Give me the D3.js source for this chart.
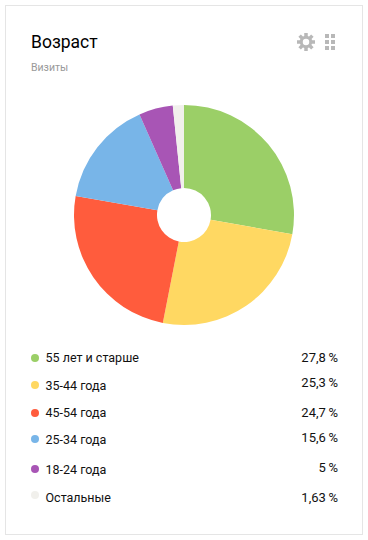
<!DOCTYPE html>
<html>
<head>
<meta charset="utf-8">
<script src="https://cdnjs.cloudflare.com/ajax/libs/d3/7.8.5/d3.min.js"></script>
<style>
html, body { margin: 0; padding: 0; background: #fff; }
text { font-family: Roboto, "Noto Sans", sans-serif; }
</style>
</head>
<body>
<div class="canvas"></div>
<script>
// Data
const categories = ['55 лет и старше', '35-44 года', '45-54 года', '25-34 года', '18-24 года', 'Остальные'];
const values = [27.8, 25.3, 24.7, 15.6, 5, 1.63];
// thin space before the percent sign
const valueLabels = ['27,8\u2009%', '25,3\u2009%', '24,7\u2009%', '15,6\u2009%', '5\u2009%', '1,63\u2009%'];
const colors = ['#9bcf67', '#ffd862', '#ff5c3d', '#78b5e8', '#a855b5', '#f1f0ec'];

const svg = d3.select('.canvas')
    .append('svg')
    .attr('width', 368)
    .attr('height', 540)
    .style('display', 'block');

// card border
svg.append('rect')
    .attr('x', 5.5)
    .attr('y', 5.5)
    .attr('width', 357)
    .attr('height', 529)
    .attr('fill', '#fff')
    .attr('stroke', '#e5e5e5');

// header
svg.append('text')
    .attr('x', 31)
    .attr('y', 48)
    .attr('font-size', 17.5)
    .attr('fill', '#000')
    .text('Возраст');

svg.append('text')
    .attr('x', 31)
    .attr('y', 71)
    .attr('font-size', 10.5)
    .attr('fill', '#999')
    .text('Визиты');

// gear icon
const gear = svg.append('g').attr('transform', 'translate(306, 42)');
d3.range(8).forEach(i => {
    gear.append('rect')
        .attr('x', -1.75)
        .attr('y', -9)
        .attr('width', 3.5)
        .attr('height', 5)
        .attr('fill', '#b8b8b8')
        .attr('transform', `rotate(${i * 45})`);
});
gear.append('circle')
    .attr('r', 4.75)
    .attr('fill', 'none')
    .attr('stroke', '#b8b8b8')
    .attr('stroke-width', 3);

// grid icon
const gridX = d3.scalePoint().domain([0, 1]).range([325, 331]);
const gridY = d3.scalePoint().domain([0, 1, 2]).range([34, 46]);
[0, 1, 2].forEach(r => [0, 1].forEach(c => {
    svg.append('rect')
        .attr('x', gridX(c))
        .attr('y', gridY(r))
        .attr('width', 4)
        .attr('height', 4)
        .attr('fill', '#b8b8b8');
}));

// pie
const pie = d3.pie().sort(null).value(d => d);
const arc = d3.arc().innerRadius(27).outerRadius(110);

svg.append('g')
    .attr('transform', 'translate(184, 215)')
    .selectAll('path')
    .data(pie(values))
    .enter()
    .append('path')
    .attr('d', arc)
    .attr('fill', (d, i) => colors[i]);

// legend, the rows in the picture are not evenly spaced
const dotY = d3.scaleOrdinal(categories, [358, 385, 413, 439, 469, 495]);
const labelY = d3.scaleOrdinal(categories, [362, 390, 417, 444, 474, 502]);
const valueY = d3.scaleOrdinal(categories, [362, 387, 417, 442, 472, 502]);

const rows = svg.append('g')
    .selectAll('g')
    .data(categories)
    .enter()
    .append('g');

rows.append('circle')
    .attr('cx', 35)
    .attr('cy', d => dotY(d))
    .attr('r', 4)
    .attr('fill', (d, i) => colors[i]);

rows.append('text')
    .attr('x', 45.5)
    .attr('y', d => labelY(d))
    .attr('font-size', 12.5)
    .attr('fill', '#111')
    .text(d => d);

rows.append('text')
    .attr('x', 338)
    .attr('y', d => valueY(d))
    .attr('text-anchor', 'end')
    .attr('font-size', 13)
    .attr('fill', '#111')
    .text((d, i) => valueLabels[i]);
</script>
</body>
</html>
